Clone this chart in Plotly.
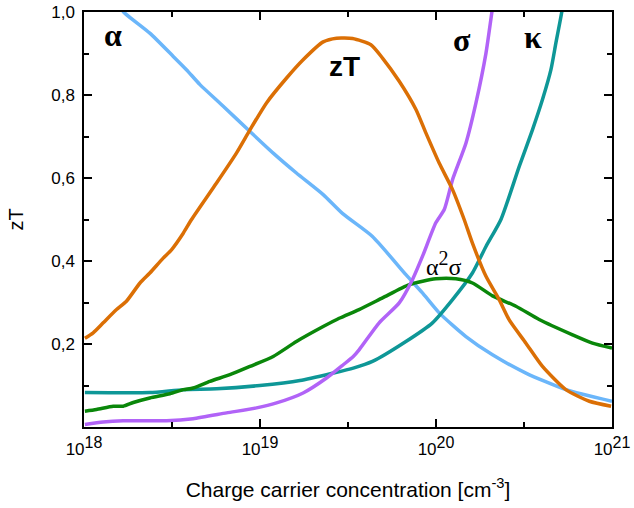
import numpy as np
import plotly.graph_objects as go

# log10 of carrier concentration (cm^-3) and values
zT_logn = [18.005, 18.052, 18.109, 18.185, 18.241, 18.318, 18.374, 18.45, 18.497, 18.564,
           18.611, 18.753, 18.866, 18.943, 19.037, 19.151, 19.245, 19.359, 19.435, 19.526,
           19.630, 19.696, 19.791, 19.886, 19.943, 20.018, 20.094, 20.160, 20.207, 20.284,
           20.359, 20.416, 20.511, 20.605, 20.738, 20.871, 20.995]
zT_val = [0.214, 0.227, 0.251, 0.283, 0.303, 0.347, 0.371, 0.407, 0.427, 0.467,
          0.500, 0.588, 0.660, 0.716, 0.781, 0.841, 0.885, 0.928, 0.937, 0.936,
          0.921, 0.889, 0.833, 0.765, 0.708, 0.636, 0.572, 0.500, 0.443, 0.363,
          0.307, 0.258, 0.202, 0.146, 0.090, 0.062, 0.050]

alpha_logn = [18.20, 18.223, 18.374, 18.507, 18.582, 18.659, 18.791, 18.943, 19.075, 19.207,
              19.359, 19.47, 19.639, 19.829, 19.923, 20.018, 20.170, 20.321, 20.511, 20.738, 21.0]
alpha_val = [1.02, 1.001, 0.949, 0.893, 0.861, 0.825, 0.773, 0.712, 0.660, 0.612,
             0.560, 0.514, 0.459, 0.367, 0.323, 0.275, 0.218, 0.174, 0.130, 0.090, 0.062]

pf_logn = [18.005, 18.071, 18.166, 18.223, 18.280, 18.374, 18.488, 18.564, 18.620, 18.715,
           18.829, 18.943, 19.075, 19.207, 19.359, 19.45, 19.563, 19.696, 19.848, 19.999,
           20.113, 20.207, 20.321, 20.454, 20.586, 20.776, 20.889, 21.0]
pf_val = [0.038, 0.042, 0.050, 0.050, 0.059, 0.070, 0.080, 0.090, 0.094, 0.110,
          0.126, 0.146, 0.170, 0.206, 0.242, 0.262, 0.283, 0.311, 0.343, 0.357,
          0.357, 0.347, 0.316, 0.291, 0.259, 0.222, 0.202, 0.190]

kappa_logn = [18.005, 18.374, 18.564, 18.753, 18.999, 19.227, 19.416, 19.530, 19.639, 19.829,
              19.980, 20.094, 20.207, 20.284, 20.369, 20.473, 20.548, 20.605, 20.653, 20.681,
              20.715, 20.72]
kappa_val = [0.083, 0.083, 0.090, 0.092, 0.100, 0.112, 0.130, 0.142, 0.158, 0.206,
             0.251, 0.307, 0.371, 0.435, 0.500, 0.628, 0.716, 0.789, 0.861, 0.925,
             1.001, 1.02]

sigma_logn = [18.005, 18.109, 18.223, 18.469, 18.620, 18.810, 18.980, 19.094, 19.245, 19.378,
              19.473, 19.530, 19.563, 19.677, 19.791, 19.866, 19.923, 19.999, 20.047, 20.094,
              20.170, 20.227, 20.284, 20.318, 20.325]
sigma_val = [0.006, 0.012, 0.015, 0.015, 0.020, 0.034, 0.046, 0.058, 0.082, 0.118,
             0.150, 0.170, 0.186, 0.251, 0.299, 0.355, 0.411, 0.492, 0.524, 0.596,
             0.684, 0.781, 0.901, 1.001, 1.02]

x_tickvals = [1e18, 1e19, 1e20, 1e21]
x_exponents = ["18", "19", "20", "21"]
x_minor = [10**18.5, 10**19.5, 10**20.5]
y_tickvals = [0.2, 0.4, 0.6, 0.8, 1.0]
y_ticktext = ["0,2", "0,4", "0,6", "0,8", "1,0"]
y_minor = [0.1, 0.3, 0.5, 0.7, 0.9]

series = [
    (alpha_logn, alpha_val, "#6BB6FA", "α"),
    (kappa_logn, kappa_val, "#0E9797", "κ"),
    (pf_logn, pf_val, "#0A870A", "α²σ"),
    (sigma_logn, sigma_val, "#B163F7", "σ"),
    (zT_logn, zT_val, "#DB6F05", "zT"),
]

fig = go.Figure()
for lx, v, c, name in series:
    fig.add_trace(go.Scatter(x=[10**e for e in lx], y=v, mode="lines", name=name,
                             line=dict(color=c, width=3.5, shape="spline", smoothing=0.6),
                             showlegend=False))

serif = "Liberation Serif"
labels = [
    (18.167, 0.944, "<b>α</b>", serif, 32),
    (19.481, 0.868, "<b>zT</b>", "Liberation Sans", 28),
    (20.15, 0.933, "<b>σ</b>", serif, 32),
    (20.549, 0.939, "<b>κ</b>", serif, 32),
    (20.047, 0.393, "α<sup><span style='font-size:20px'>2</span></sup>σ", serif, 24),
]
for lx, y, t, f, s in labels:
    fig.add_annotation(x=lx, y=y, text=t, showarrow=False, xref="x", yref="y",
                       font=dict(family=f, size=s, color="black"))

x_ticktext = ["10<sup><span style='font-size:16px'>%s</span></sup>" % e for e in x_exponents]

axis_common = dict(showline=True, linecolor="black", linewidth=1.5, mirror="ticks",
                   ticks="inside", ticklen=8, tickwidth=1.5, tickcolor="black",
                   showgrid=False, zeroline=False, automargin=False,
                   tickfont=dict(family="Liberation Sans", size=17, color="black"))

fig.update_xaxes(type="log", range=[18, 21], tickmode="array", tickvals=x_tickvals,
                 ticktext=x_ticktext,
                 minor=dict(tickmode="array", tickvals=x_minor, ticks="inside",
                            ticklen=5, tickwidth=1.5, tickcolor="black"),
                 title=dict(text="Charge carrier concentration [cm<sup>-3</sup>]",
                            font=dict(family="Liberation Sans", size=21, color="black"),
                            standoff=24),
                 ticklabelstandoff=6,
                 **axis_common)
fig.update_yaxes(range=[0, 1.0], tickmode="array", tickvals=y_tickvals, ticktext=y_ticktext,
                 minor=dict(tickmode="array", tickvals=y_minor, ticks="inside",
                            ticklen=5, tickwidth=1.5, tickcolor="black"),
                 title=dict(text="zT", font=dict(family="Liberation Sans", size=20, color="black"),
                            standoff=22),
                 ticklabelstandoff=4,
                 **axis_common)

fig.update_layout(width=634, height=508, margin=dict(l=84, r=22, t=12, b=81),
                  plot_bgcolor="white", paper_bgcolor="white")
fig.write_html("out.html")
